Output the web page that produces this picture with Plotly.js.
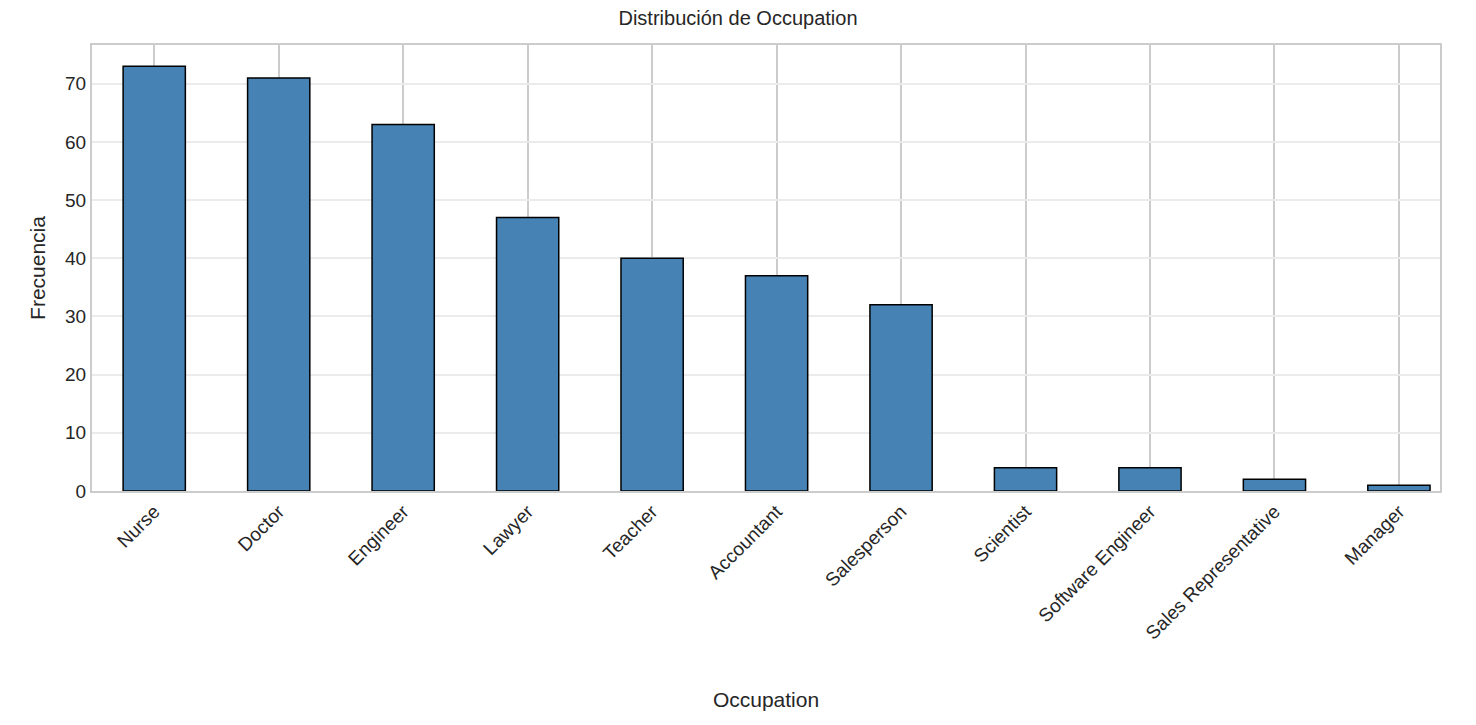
<!DOCTYPE html>
<html>
<head>
<meta charset="utf-8">
<script src="https://cdn.plot.ly/plotly-3.0.1.min.js"></script>
<style>body{margin:0;background:#fff}</style>
</head>
<body>
<div id="myDiv" style="width:1476px;height:725px"></div>
<script>
let occupations = ["Nurse", "Doctor", "Engineer", "Lawyer", "Teacher", "Accountant",
  "Salesperson", "Scientist", "Software Engineer", "Sales Representative", "Manager"];
let counts = [73, 71, 63, 47, 40, 37, 32, 4, 4, 2, 1];

let bars = {
  x: occupations,
  y: counts,
  type: "bar",
  width: 0.5,
  marker: { color: "#4682b4", line: { color: "#000", width: 1.5 } }
};

let layout = {
  width: 1476,
  height: 725,
  margin: { l: 92, r: 36, t: 45, b: 234 },
  font: { family: "Liberation Sans, Arial, sans-serif", size: 19, color: "#262626" },
  paper_bgcolor: "#fff",
  plot_bgcolor: "#fff",
  title: { text: "Distribución de Occupation", x: 0.5, y: 0.985, yanchor: "top", font: { size: 20 } },
  showlegend: false,
  xaxis: {
    title: { text: "Occupation", font: { size: 21 }, standoff: 50 },
    tickangle: -45,
    showgrid: true,
    gridcolor: "#cccccc",
    gridwidth: 1.5,
    showline: true,
    mirror: true,
    linecolor: "#cccccc",
    linewidth: 2,
    ticks: "",
    range: [-0.5, 10.33]
  },
  yaxis: {
    title: { text: "Frecuencia", font: { size: 21 }, standoff: 14 },
    range: [0, 76.65],
    dtick: 10,
    showgrid: true,
    gridcolor: "#ebebeb",
    gridwidth: 1.5,
    zeroline: false,
    showline: true,
    mirror: true,
    linecolor: "#cccccc",
    linewidth: 2,
    ticks: ""
  }
};

Plotly.newPlot("myDiv", [bars], layout, { displayModeBar: false });
</script>
</body>
</html>
